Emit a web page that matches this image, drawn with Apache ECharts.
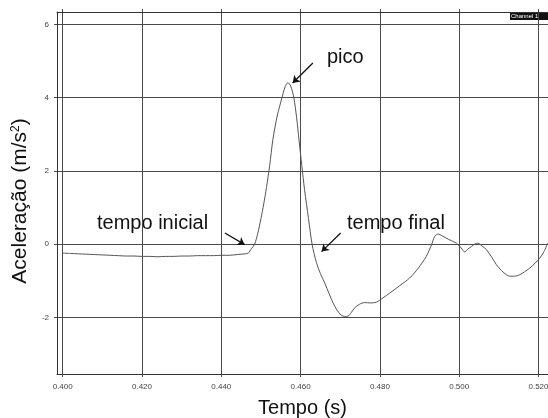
<!DOCTYPE html>
<html>
<head>
<meta charset="utf-8">
<script src="https://cdn.jsdelivr.net/npm/echarts@6/dist/echarts.min.js"></script>
<style>
  html, body { margin: 0; padding: 0; background: #fff; }
  #chart { width: 548px; height: 418px; }
</style>
</head>
<body>
<div id="chart"></div>
<script>
// tempo (s) e aceleração (m/s²)
var tempo = [
  0.400, 0.402, 0.404, 0.406, 0.408, 0.410, 0.412, 0.414, 0.416, 0.418,
  0.420, 0.422, 0.424, 0.426, 0.428, 0.430, 0.432, 0.434, 0.436, 0.438,
  0.440, 0.442, 0.444, 0.446, 0.4468, 0.4476, 0.4484, 0.4492, 0.4500, 0.4507,
  0.4514, 0.4522, 0.4530, 0.4541, 0.4553, 0.4561, 0.4568, 0.4575, 0.4583, 0.4590,
  0.4596, 0.4603, 0.4610, 0.4620, 0.4629, 0.4640, 0.4650, 0.4661, 0.4672, 0.4682,
  0.4692, 0.4702, 0.4711, 0.4720, 0.4728, 0.4736, 0.4748, 0.4762, 0.4776, 0.4791,
  0.4808, 0.4825, 0.4850, 0.4875, 0.4897, 0.4917, 0.4930, 0.4938, 0.4947, 0.4957,
  0.4967, 0.4980, 0.4993, 0.5005, 0.5014, 0.5022, 0.5031, 0.5040, 0.5047, 0.5058,
  0.5069, 0.5082, 0.5094, 0.5107, 0.5119, 0.5127, 0.5140, 0.5153, 0.5165, 0.5178,
  0.5191, 0.5203, 0.5214, 0.5223
];
var aceleracao = [
  -0.24, -0.25, -0.26, -0.27, -0.28, -0.29, -0.30, -0.31, -0.32, -0.32,
  -0.33, -0.33, -0.34, -0.33, -0.33, -0.32, -0.32, -0.31, -0.31, -0.31,
  -0.30, -0.30, -0.28, -0.26, -0.24, -0.12, 0.00, 0.30, 0.70, 1.10,
  1.55, 2.15, 2.85, 3.50, 4.00, 4.30, 4.41, 4.32, 4.00, 3.45,
  2.85, 2.15, 1.49, 0.70, 0.00, -0.50, -0.80, -1.06, -1.35, -1.60,
  -1.80, -1.93, -1.97, -1.96, -1.86, -1.74, -1.64, -1.59, -1.60, -1.58,
  -1.46, -1.33, -1.13, -0.92, -0.65, -0.33, -0.02, 0.21, 0.28, 0.23,
  0.17, 0.10, 0.03, -0.10, -0.21, -0.13, -0.06, 0.01, 0.03, -0.05,
  -0.15, -0.35, -0.56, -0.72, -0.83, -0.87, -0.87, -0.83, -0.75, -0.65,
  -0.52, -0.38, -0.20, 0.03
];
var xTicks = [0.40, 0.42, 0.44, 0.46, 0.48, 0.50, 0.52];
var yTicks = [-2, 0, 2, 4, 6];

// setas das anotações: [inicio, fim] em coordenadas dos dados
var setas = [
  [[0.4631, 4.95], [0.4580, 4.40]],
  [[0.4409, 0.31], [0.4459, -0.01]],
  [[0.4701, 0.31], [0.4653, -0.20]]
];

var font = 'Liberation Sans, Arial, sans-serif';
var gridColor = '#4a4a4a';

var dados = [];
for (var i = 0; i < tempo.length; i++) {
  dados.push([tempo[i], aceleracao[i]]);
}

var option = {
  backgroundColor: '#fff',
  animation: false,
  grid: { left: 57, right: 0, top: 12, bottom: 44, containLabel: false, outerBoundsMode: 'none' },
  xAxis: [
    {
      type: 'value',
      min: 0.39856,
      max: 0.5224,
      position: 'bottom',
      name: 'Tempo (s)',
      nameLocation: 'middle',
      nameGap: 24,
      nameTextStyle: { fontSize: 20, fontFamily: font, color: '#111' },
      axisLine: { show: true, onZero: false, lineStyle: { color: '#333', width: 1 } },
      axisTick: { show: true, length: 3, customValues: xTicks, lineStyle: { color: gridColor } },
      axisLabel: {
        customValues: xTicks,
        fontSize: 8, fontFamily: font, color: '#444', margin: 9,
        formatter: function (v) { return v.toFixed(3); }
      },
      splitLine: { show: true, lineStyle: { color: gridColor, width: 1 } }
    },
    {
      type: 'value',
      min: 0.39856,
      max: 0.5224,
      position: 'top',
      axisLine: { show: true, onZero: false, lineStyle: { color: '#333', width: 1 } },
      axisTick: { show: true, length: 3, customValues: xTicks, lineStyle: { color: gridColor } },
      axisLabel: { show: false, customValues: xTicks },
      splitLine: { show: false }
    }
  ],
  yAxis: {
    type: 'value',
    min: -3.54,
    max: 6.34,
    name: 'Aceleração (m/s{sup|2})',
    nameLocation: 'middle',
    nameGap: 1,
    nameTextStyle: {
      fontSize: 21, fontFamily: font, color: '#111',
      padding: [0, 16, 0, 0],
      rich: { sup: { fontSize: 12, fontFamily: font, color: '#111', padding: [0, 0, 9, 0] } }
    },
    axisLine: { show: true, onZero: false, lineStyle: { color: '#333', width: 1 } },
    axisTick: { show: true, length: 3, customValues: yTicks, lineStyle: { color: gridColor } },
    axisLabel: { customValues: yTicks, fontSize: 8, fontFamily: font, color: '#444', margin: 8 },
    splitLine: { show: true, lineStyle: { color: gridColor, width: 1 } }
  },
  series: [
    {
      type: 'line',
      data: dados,
      showSymbol: false,
      smooth: 0.3,
      lineStyle: { color: '#555', width: 1 },
      markLine: {
        silent: true,
        symbol: ['none', 'arrow'],
        symbolSize: 7,
        label: { show: false },
        lineStyle: { color: '#111', width: 1.3, type: 'solid' },
        data: setas.map(function (s) {
          return [{ coord: s[0] }, { coord: s[1] }];
        })
      }
    }
  ],
  graphic: [
    { type: 'text', left: 327, top: 47, style: { text: 'pico', fontSize: 20, fontFamily: font, fill: '#111' } },
    { type: 'text', left: 97, top: 213, style: { text: 'tempo inicial', fontSize: 20, fontFamily: font, fill: '#111' } },
    { type: 'text', left: 347, top: 213, style: { text: 'tempo final', fontSize: 20, fontFamily: font, fill: '#111' } },
    { type: 'rect', shape: { x: 510, y: 13, width: 40, height: 7 }, style: { fill: '#111' } },
    { type: 'text', left: 511, top: 13, style: { text: 'Channel 1', fontSize: 6, fontFamily: font, fill: '#fff' } }
  ]
};

var chart = echarts.init(document.getElementById('chart'));
chart.setOption(option);
</script>
</body>
</html>
